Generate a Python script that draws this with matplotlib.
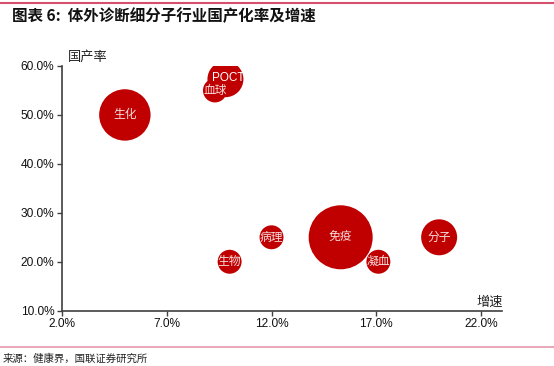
import matplotlib
matplotlib.use("Agg")
import matplotlib.pyplot as plt
from matplotlib.ticker import FuncFormatter

plt.rcParams['font.family'] = ['Noto Sans CJK SC', 'DejaVu Sans']

# Data
categories = ["生化", "POCT", "血球", "免疫", "凝血", "分子", "病理", "生物"]
growth = [5.0, 9.8, 9.3, 15.3, 17.1, 20.0, 12.0, 10.0]          # 增速 (%)
localization = [50.0, 57.3, 55.0, 25.0, 20.0, 25.0, 25.0, 20.0]  # 国产率 (%)
bubble_size = [645, 316, 140, 1000, 140, 316, 140, 140]

x_ticks = [2, 7, 12, 17, 22]
y_ticks = [10, 20, 30, 40, 50, 60]

W, H = 554, 366
fig = plt.figure(figsize=(W / 100, H / 100), dpi=100)
ax = fig.add_axes([62 / W, 1 - 310.7 / H, (502 - 62) / W, (310.7 - 66) / H])

# r=32px for size 1000 -> s=(1.44*32)^2
scale = (1.44 * 32) ** 2 / 1000
color = "#C00000"
ax.scatter(growth, localization, s=[b * scale for b in bubble_size], c=color,
           edgecolors="none", zorder=3)

for name, x, y in zip(categories, growth, localization):
    if name == "POCT":
        ax.text(x + 0.15, y + 0.2, name, color="white", fontsize=8.5,
                family=["Liberation Sans"], ha="center", va="center", zorder=4)
    else:
        ax.text(x, y, name, color="#f4dede", fontsize=8.5, ha="center",
                va="center", zorder=4)

ax.set_xlim(2, 23)
ax.set_ylim(10, 60)
ax.set_xticks(x_ticks)
ax.set_yticks(y_ticks)
ax.xaxis.set_major_formatter(FuncFormatter(lambda v, p: f"{v:.1f}%"))
ax.yaxis.set_major_formatter(FuncFormatter(lambda v, p: f"{v:.1f}%"))
for lab in ax.get_xticklabels() + ax.get_yticklabels():
    lab.set_family(["Liberation Sans"])
    lab.set_fontsize(8.6)
    lab.set_color("#111111")
ax.tick_params(axis="both", length=3.5, width=1, color="#404040", pad=2)
ax.spines["top"].set_visible(False)
ax.spines["right"].set_visible(False)
for s in ("left", "bottom"):
    ax.spines[s].set_color("#404040")
    ax.spines[s].set_linewidth(1.2)

# Axis titles
fig.text(68 / W, 1 - 57 / H, "国产率", fontsize=9.5, color="#222222",
         ha="left", va="center")
fig.text(503 / W, 1 - 302 / H, "增速", fontsize=9.5, color="#222222",
         ha="right", va="center")

# Header / footer
fig.add_artist(plt.Line2D([0, 1], [1 - 2.5 / H, 1 - 2.5 / H], color="#d4506e",
                          linewidth=1.5, transform=fig.transFigure))
fig.text(12 / W, 1 - 16 / H, "图表 6:  体外诊断细分子行业国产化率及增速",
         fontsize=11.2, fontweight="bold", style="italic", color="#111111",
         ha="left", va="center")
fig.add_artist(plt.Line2D([0, 1], [1 - 347 / H, 1 - 347 / H], color="#e8a0b4",
                          linewidth=1.3, transform=fig.transFigure))
fig.text(3 / W, 1 - 359 / H, "来源：健康界，国联证券研究所", fontsize=7.5,
         color="#222222", ha="left", va="center")

fig.savefig("out.png", dpi=100)
